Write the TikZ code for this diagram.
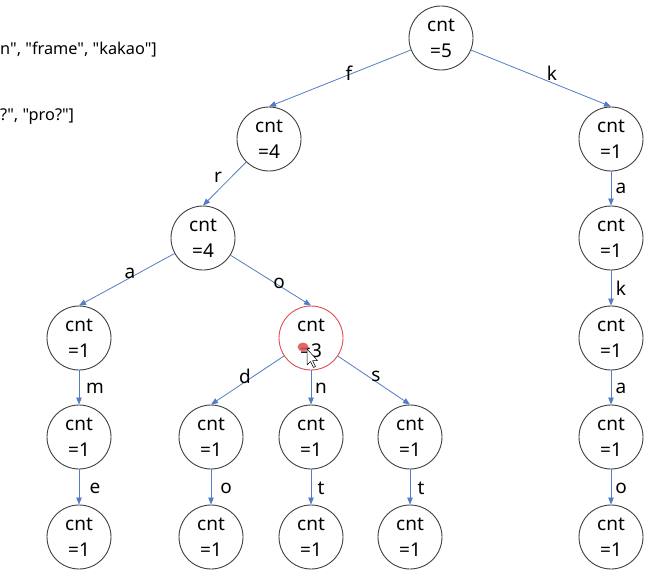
\documentclass[tikz,border=0pt]{standalone}
\usepackage{fontspec}
\setmainfont{Noto Sans}
\newfontfamily\plainsans{Noto Sans}[Ligatures=TeXOff]
\usetikzlibrary{arrows.meta}
\definecolor{edgeblue}{RGB}{84,124,198}
\definecolor{ringgray}{RGB}{64,64,64}
\definecolor{hlred}{RGB}{222,78,78}
\begin{document}
\begin{tikzpicture}[x=1pt,y=-1pt,
  trie/.style={circle,draw=ringgray,line width=0.9pt,minimum size=64pt,inner sep=0pt,
    align=center,font=\fontsize{19}{26}\selectfont},
  link/.style={draw=edgeblue,line width=0.8pt,-{Triangle[length=7pt,width=5.5pt]}},
  lbl/.style={font=\fontsize{19}{22}\selectfont,inner sep=0pt},
  note/.style={font=\plainsans\fontsize{16.3}{20}\selectfont,anchor=base west,inner sep=0pt}]
\useasboundingbox[fill=white] (0,0) rectangle (660,575);

% word lists at the top left
\node[note] (words) at (0,55) {n", "frame", "kakao"]};
\node[note] (queries) at (0,120) {?", "pro?"]};

% trie nodes
\node[trie] (root) at (441,38) {cnt\\=5};
\node[trie] (f) at (269,139) {cnt\\=4};
\node[trie] (k) at (611,139) {cnt\\=1};
\node[trie] (fr) at (203,238) {cnt\\=4};
\node[trie] (ka) at (611,238) {cnt\\=1};
\node[trie] (fra) at (79,338) {cnt\\=1};
\node[trie,draw=hlred] (fro) at (311,338) {cnt\\=3};
\node[trie] (kak) at (611,338) {cnt\\=1};
\node[trie] (fram) at (79,437) {cnt\\=1};
\node[trie] (frod) at (211,437) {cnt\\=1};
\node[trie] (fron) at (311,437) {cnt\\=1};
\node[trie] (fros) at (410,437) {cnt\\=1};
\node[trie] (kaka) at (611,437) {cnt\\=1};
\node[trie] (frame) at (79,537) {cnt\\=1};
\node[trie] (frodo) at (211,537) {cnt\\=1};
\node[trie] (front) at (311,537) {cnt\\=1};
\node[trie] (frost) at (410,537) {cnt\\=1};
\node[trie] (kakao) at (611,537) {cnt\\=1};

% pointer highlight over the selected node
\fill[hlred,opacity=0.85] (303,347) ellipse (5.5pt and 4.5pt);
\draw[black,fill=white,line width=0.5pt,line join=round]
  (307,349) -- (307,365) -- (310.5,361.5) -- (313.5,367.5) -- (315.5,366.5)
  -- (312.5,360.5) -- (317.5,360.5) -- cycle;

% edges
\draw[link] (root) -- (f.north);
\draw[link] (root) -- (k.north);
\draw[link] (f) -- (fr.north);
\draw[link] (k) -- (ka.north);
\draw[link] (fr) -- (fra.north);
\draw[link] (fr) -- (fro.north);
\draw[link] (ka) -- (kak.north);
\draw[link] (fra) -- (fram.north);
\draw[link] (fro) -- (frod.north);
\draw[link] (fro) -- (fron.north);
\draw[link] (fro) -- (fros.north);
\draw[link] (kak) -- (kaka.north);
\draw[link] (fram) -- (frame.north);
\draw[link] (frod) -- (frodo.north);
\draw[link] (fron) -- (front.north);
\draw[link] (fros) -- (frost.north);
\draw[link] (kaka) -- (kakao.north);

% edge letters
\node[lbl] (lf) at (349,73) {f};
\node[lbl] (lk) at (552,73) {k};
\node[lbl] (lr) at (218,177) {r};
\node[lbl] (la) at (130,273) {a};
\node[lbl] (lo) at (279,283) {o};
\node[lbl] (lka) at (621,188) {a};
\node[lbl] (lkak) at (621,288) {k};
\node[lbl] (lm) at (95,388) {m};
\node[lbl] (ld) at (245,376) {d};
\node[lbl] (ln) at (321,388) {n};
\node[lbl] (ls) at (376,376) {s};
\node[lbl] (lkaka) at (621,388) {a};
\node[lbl] (le) at (95,488) {e};
\node[lbl] (lo2) at (226,488) {o};
\node[lbl] (lt) at (321,488) {t};
\node[lbl] (lt2) at (421,488) {t};
\node[lbl] (lkakao) at (621,488) {o};
\end{tikzpicture}
\end{document}
